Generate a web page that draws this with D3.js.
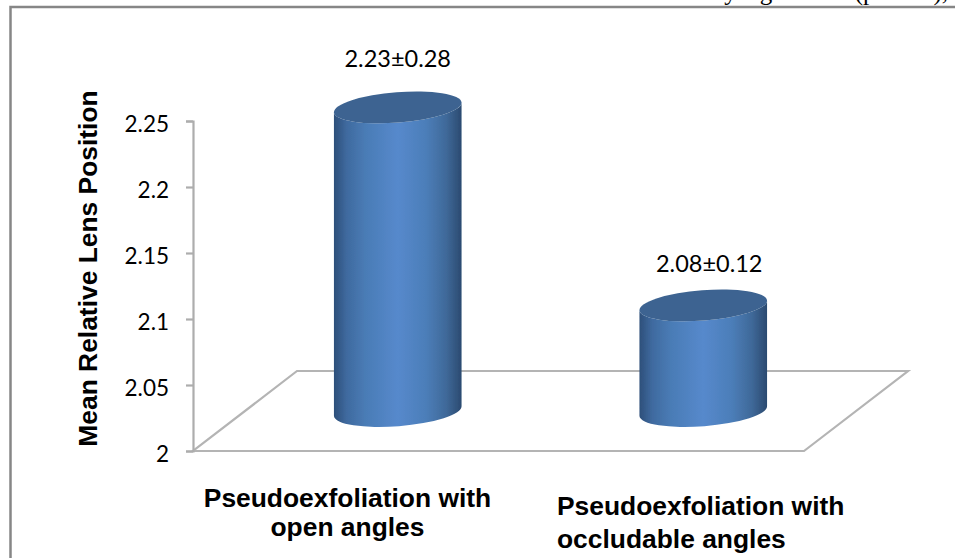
<!DOCTYPE html>
<html>
<head>
<meta charset="UTF-8">
<title>Mean Relative Lens Position</title>
<script src="https://d3js.org/d3.v7.min.js"></script>
<style>
  html, body { margin: 0; padding: 0; background: #fff; overflow: hidden; }
  svg { display: block; }
</style>
</head>
<body>
<svg width="955" height="558"></svg>
<script>
const categories = [
  ["Pseudoexfoliation with", "open angles"],
  ["Pseudoexfoliation with", "occludable angles"]
];
const values = [2.23, 2.08];
const valueLabels = ["2.23±0.28", "2.08±0.12"];
const yTicks = [2, 2.05, 2.1, 2.15, 2.2, 2.25];
const yTitle = "Mean Relative Lens Position";
const captionLine = "2.23±0.28 and 2.08±0.12 and it was found to be statistically significant (p=0.03),";

const svg = d3.select("svg");

// front edge of the floor and the axis span
const x0 = 193, x1 = 804, yBase = 451, yTop = 121;
const depthX = 104, depthY = -80;

const xScale = d3.scaleBand()
  .domain(d3.range(categories.length))
  .range([x0, x1])
  .paddingInner(0.581)
  .paddingOuter(0.2905);

const yScale = d3.scaleLinear().domain([2, 2.25]).range([yBase, yTop]);

// gradient of the cylinder side
const defs = svg.append("defs");
const grad = defs.append("linearGradient").attr("id", "side");
[[0, "#2d4f7a"], [0.1, "#3f6a9f"], [0.25, "#4a7cb6"], [0.5, "#5689cc"], [0.72, "#4c7eb9"], [0.88, "#3f6999"], [1, "#2b4a70"]]
  .forEach(s => grad.append("stop").attr("offset", s[0]).attr("stop-color", s[1]));
defs.append("filter").attr("id", "soft")
  .append("feGaussianBlur").attr("stdDeviation", 0.5);

// caption line of the page, cut by the top edge
svg.append("text")
  .attr("x", 948).attr("y", -0.5)
  .attr("text-anchor", "end")
  .attr("font-family", "Liberation Serif").attr("font-size", 25)
  .attr("fill", "#000")
  .text(captionLine);

// outer frame
svg.append("rect")
  .attr("x", 10.5).attr("y", 7).attr("width", 1000).attr("height", 600)
  .attr("fill", "#fff").attr("stroke", "#868686").attr("stroke-width", 2.5);

// floor
const floor = [[x0, yBase], [x1, yBase], [x1 + depthX, yBase + depthY], [x0 + depthX, yBase + depthY]];
svg.append("path")
  .attr("d", d3.line()(floor) + "Z")
  .attr("fill", "none").attr("stroke", "#b4b4b4").attr("stroke-width", 2.2)
  .attr("filter", "url(#soft)");

// y axis
const yAxis = svg.append("g")
  .attr("transform", `translate(${x0},0)`)
  .call(d3.axisLeft(yScale).tickValues(yTicks).tickFormat(d => d).tickSize(7).tickPadding(17));
yAxis.selectAll("path, line").attr("stroke", "#adadad").attr("stroke-width", 2.2);
yAxis.selectAll("text")
  .attr("font-family", "Lato").attr("font-size", 22.5).attr("fill", "#000").attr("dy", "10px");

svg.append("text")
  .attr("transform", "translate(97,268.5) rotate(-90)")
  .attr("text-anchor", "middle")
  .attr("font-family", "Liberation Sans").attr("font-weight", "bold").attr("font-size", 26.4)
  .attr("fill", "#000")
  .text(yTitle);

// cylinders
const ry = 15.2, tilt = -4.5;
const rad = tilt * Math.PI / 180;
values.forEach((v, i) => {
  const rx = xScale.bandwidth() / 2;
  const cx = xScale(i) + rx + depthX / 2;
  const cyTop = yScale(v) + depthY / 2;
  const cyBot = yBase + depthY / 2;
  const ex = rx * Math.cos(rad), ey = rx * Math.sin(rad);
  const arc = `A${rx},${ry} ${tilt} 0 `;
  const g = svg.append("g").attr("filter", "url(#soft)");
  g.append("path")
    .attr("d", `M${cx - ex},${cyTop - ey} L${cx - ex},${cyBot - ey} ${arc}0 ${cx + ex},${cyBot + ey} L${cx + ex},${cyTop + ey} ${arc}1 ${cx - ex},${cyTop - ey}Z`)
    .attr("fill", "url(#side)");
  g.append("ellipse")
    .attr("transform", `translate(${cx},${cyTop}) rotate(${tilt})`)
    .attr("rx", rx).attr("ry", ry)
    .attr("fill", "#3d6491");
});

// value labels
svg.selectAll(".val").data(valueLabels).join("text")
  .attr("class", "val")
  .attr("x", (d, i) => xScale(i) + xScale.bandwidth() / 2 + depthX / 2 + (i ? 6 : 0))
  .attr("y", (d, i) => i ? 272 : 67)
  .attr("text-anchor", "middle")
  .attr("font-family", "Lato").attr("font-size", 23.5).attr("fill", "#000")
  .text(d => d);

// category labels
const catFont = g => g.attr("font-family", "Liberation Sans").attr("font-weight", "bold").attr("font-size", 26.4).attr("fill", "#000");
svg.append("text").call(catFont).attr("text-anchor", "middle").attr("x", 347.5).attr("y", 507).text(categories[0][0]);
svg.append("text").call(catFont).attr("text-anchor", "middle").attr("x", 347.5).attr("y", 536).text(categories[0][1]);
svg.append("text").call(catFont).attr("x", 557).attr("y", 515).text(categories[1][0]);
svg.append("text").call(catFont).attr("x", 557).attr("y", 548).text(categories[1][1]);
</script>
</body>
</html>
